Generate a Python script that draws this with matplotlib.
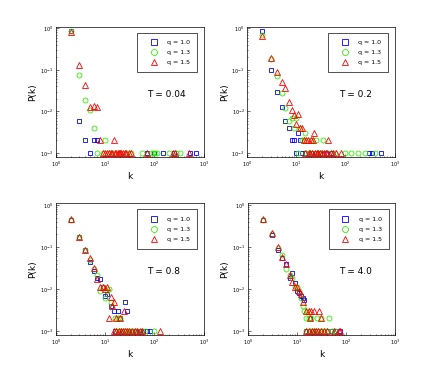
import numpy as np
import matplotlib
matplotlib.use("Agg")
import matplotlib.pyplot as plt

# --- data ---
temps = ["T = 0.04", "T = 0.2", "T = 0.8", "T = 4.0"]
q_labels = ["q = 1.0", "q = 1.3", "q = 1.5"]

# T = 0.04
k_a1 = [2, 3, 4, 6, 7, 5, 70, 100, 150, 250, 520, 700]
p_a1 = [0.85, 0.006, 0.002, 0.002, 0.002, 0.001, 0.001, 0.001, 0.001, 0.001, 0.001, 0.001]
k_a2 = [2, 3, 4, 5, 6, 10, 7, 9, 12, 15, 20, 27, 34, 55, 85, 95, 105, 115, 200, 280, 330]
p_a2 = [0.85, 0.075, 0.019, 0.011, 0.004, 0.002] + [0.001] * 15
k_a3 = [2, 3, 4, 5, 6, 7, 8, 15, 9, 10, 11, 12, 13, 14, 16, 17, 18, 19, 20, 21, 23, 25, 27, 30, 33, 70, 240, 260, 500]
p_a3 = [0.8, 0.13, 0.043, 0.0125, 0.0135, 0.0125, 0.002, 0.002] + [0.001] * 21

# T = 0.2
k_b1 = [2, 3, 4, 5, 6, 7, 8, 9, 11, 12, 10, 13, 15, 20, 25, 30, 40, 50, 300, 350, 530]
p_b1 = [0.85, 0.1, 0.03, 0.013, 0.006, 0.004, 0.002, 0.002, 0.003, 0.002] + [0.001] * 11
k_b2 = [2, 3, 4, 5, 6, 7, 8, 9, 10, 12, 13, 14, 15, 20, 25, 35,
        11, 16, 18, 22, 28, 32, 45, 60, 100, 130, 180, 250, 400]
p_b2 = [0.7, 0.18, 0.07, 0.028, 0.012, 0.006, 0.007, 0.004, 0.007, 0.004, 0.002, 0.002, 0.003, 0.002, 0.002, 0.002] + [0.001] * 13
k_b3 = [2, 3, 4, 5, 6, 7, 8, 9, 10, 11, 12, 13, 14, 16, 17, 20, 22, 23, 45,
        15, 18, 19, 21, 24, 26, 28, 30, 33, 36, 40, 43, 50, 55, 65, 80]
p_b3 = [0.65, 0.19, 0.088, 0.05, 0.037, 0.017, 0.011, 0.008, 0.005, 0.0085, 0.004, 0.004, 0.002, 0.002, 0.002, 0.002, 0.002, 0.003, 0.002] + [0.001] * 16

# T = 0.8
k_c1 = [2, 3, 4, 5, 6, 7, 8, 9, 10, 11, 13, 15, 18, 20, 25, 28,
        16, 19, 22, 26, 30, 35, 40, 50, 60, 70, 80]
p_c1 = [0.45, 0.17, 0.084, 0.044, 0.027, 0.018, 0.017, 0.011, 0.007, 0.0075, 0.004, 0.003, 0.003, 0.002, 0.005, 0.003] + [0.001] * 11
k_c2 = [2, 3, 4, 5, 6, 7, 8, 9, 10, 11, 12, 13, 14, 16, 18, 20,
        17, 19, 21, 24, 27, 30, 34, 38, 45, 55, 65, 100]
p_c2 = [0.45, 0.17, 0.084, 0.048, 0.03, 0.022, 0.009, 0.011, 0.006, 0.009, 0.01, 0.005, 0.0037, 0.002, 0.002, 0.002] + [0.001] * 12
k_c3 = [2, 3, 4, 5, 6, 7, 8, 9, 10, 11, 13, 14, 15, 12, 17, 20, 24,
        15, 17, 19, 21, 23, 25, 28, 31, 35, 40, 45, 50, 55, 130]
p_c3 = [0.46, 0.17, 0.084, 0.055, 0.032, 0.017, 0.011, 0.011, 0.01, 0.011, 0.0065, 0.004, 0.005, 0.002, 0.002, 0.002, 0.003] + [0.001] * 14

# T = 4.0
k_d1 = [2, 3, 4, 5, 6, 7, 8, 9, 10, 11, 12, 13, 14, 18,
        15, 17, 20, 25, 30, 40, 50, 60, 75]
p_d1 = [0.45, 0.19, 0.085, 0.055, 0.04, 0.018, 0.024, 0.014, 0.009, 0.008, 0.007, 0.006, 0.0055, 0.002] + [0.001] * 9
k_d2 = [2, 3, 4, 5, 6, 7, 8, 9, 10, 11, 12, 13, 14, 16, 15, 17, 19, 25, 30, 45,
        15, 18, 20, 23, 26, 30, 35, 40, 50, 60]
p_d2 = [0.44, 0.2, 0.095, 0.065, 0.03, 0.022, 0.018, 0.012, 0.011, 0.009, 0.006, 0.004, 0.003, 0.003, 0.002, 0.002, 0.002, 0.002, 0.002, 0.002] + [0.001] * 10
k_d3 = [2, 3, 4, 5, 6, 7, 8, 9, 10, 11, 12, 13, 15, 17, 19, 22, 28, 18, 30,
        15, 17, 20, 22, 24, 27, 30, 35, 40, 55, 70, 75]
p_d3 = [0.47, 0.21, 0.1, 0.058, 0.04, 0.022, 0.015, 0.011, 0.011, 0.009, 0.0075, 0.005, 0.003, 0.003, 0.003, 0.003, 0.003, 0.002, 0.002] + [0.001] * 12

panels = [
    [(k_a1, p_a1), (k_a2, p_a2), (k_a3, p_a3)],
    [(k_b1, p_b1), (k_b2, p_b2), (k_b3, p_b3)],
    [(k_c1, p_c1), (k_c2, p_c2), (k_c3, p_c3)],
    [(k_d1, p_d1), (k_d2, p_d2), (k_d3, p_d3)],
]

styles = [("s", "#0000ff", 3.2), ("o", "#33ee00", 3.6), ("^", "#ff0000", 4.0)]

# axes rectangles in figure fraction
rects = [
    [0.128, 0.584, 0.339, 0.345],
    [0.567, 0.584, 0.338, 0.345],
    [0.128, 0.111, 0.339, 0.350],
    [0.569, 0.111, 0.338, 0.350],
]

fig = plt.figure(figsize=(4.36, 3.77), dpi=100)

for i, (rect, series) in enumerate(zip(rects, panels)):
    ax = fig.add_axes(rect)
    for (k, p), (m, c, ms), lab in zip(series, styles, q_labels):
        ax.plot(k, p, linestyle="none", marker=m, markersize=ms,
                markerfacecolor="none", markeredgecolor=c, markeredgewidth=0.6,
                label=lab)
    ax.set_xscale("log")
    ax.set_yscale("log")
    ax.set_xlim(1, 1000)
    ax.set_ylim(0.0008, 1.1)
    ax.set_xticks([1, 10, 100, 1000])
    ax.set_yticks([1e-3, 1e-2, 1e-1, 1])
    ax.tick_params(which="both", direction="in", labelsize=3.5, length=2, width=0.4, pad=2)
    ax.tick_params(which="minor", length=1)
    for s in ax.spines.values():
        s.set_linewidth(0.5)
    ax.set_xlabel("k", fontsize=6.5, labelpad=2)
    ax.set_ylabel("P(k)", fontsize=6.5, labelpad=2)
    ax.text(0.62, 0.46, temps[i], transform=ax.transAxes, fontsize=6.5)
    leg = ax.legend(loc="upper right", fontsize=4.5, frameon=True, fancybox=False,
                    edgecolor="black", borderpad=1.1, labelspacing=0.75,
                    handletextpad=0.7, handlelength=3.0, borderaxespad=1.0,
                    markerscale=1.2)
    leg.get_frame().set_linewidth(0.6)

fig.savefig("out.png", dpi=100)
